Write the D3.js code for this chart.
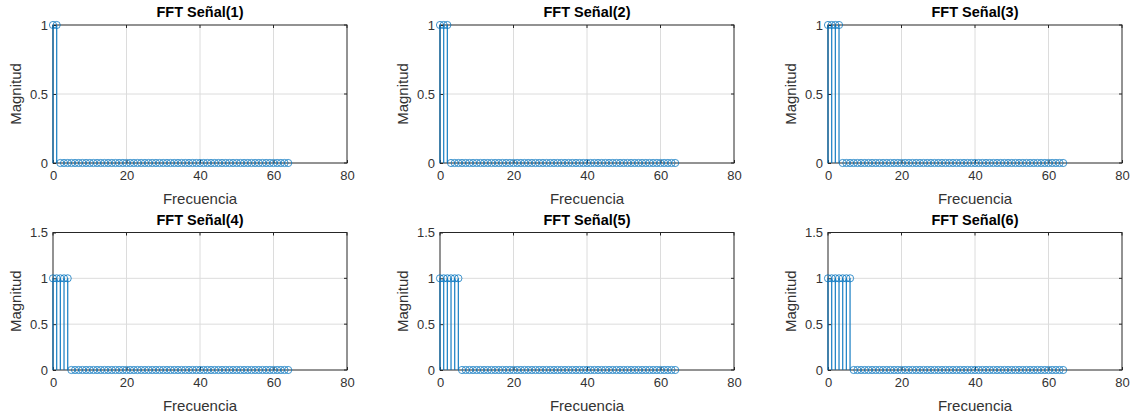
<!DOCTYPE html>
<html>
<head>
<meta charset="utf-8">
<script src="https://cdn.jsdelivr.net/npm/d3@7"></script>
<style>
  html, body { margin: 0; padding: 0; background: #fff; }
  svg { display: block; }
  text { font-family: "Liberation Sans", Arial, sans-serif; }
</style>
</head>
<body>
<svg id="chart" width="1134" height="418"></svg>
<script>
// Frequency bins 0..64 shared by all six spectra
const freqBins = d3.range(0, 65);
// Number of leading bins with unit magnitude in each signal's spectrum
const onesCount = [2, 3, 4, 5, 6, 7];
const titles = ["FFT Señal(1)", "FFT Señal(2)", "FFT Señal(3)",
                "FFT Señal(4)", "FFT Señal(5)", "FFT Señal(6)"];
const xTicks = [0, 20, 40, 60, 80];
const yTicksTop = [0, 0.5, 1];
const yTicksBottom = [0, 0.5, 1, 1.5];
const yMaxTop = 1;
const yMaxBottom = 1.5;

// Magnitudes per signal: 1 for the first bins, 0 afterwards
const magnitudes = onesCount.map(n => freqBins.map(f => (f < n ? 1 : 0)));

const svg = d3.select("#chart");
const colLeft = [53, 440, 828];
const plotW = 294;
const rows = [
  { top: 25, bottom: 163, yMax: yMaxTop, ticks: yTicksTop },
  { top: 232.5, bottom: 370, yMax: yMaxBottom, ticks: yTicksBottom }
];
const stemColor = "#0072BD";
const axisColor = "#262626";

magnitudes.forEach((vals, i) => {
  const r = rows[Math.floor(i / 3)];
  const left = colLeft[i % 3];
  const x = d3.scaleLinear().domain([0, 80]).range([left, left + plotW]);
  const y = d3.scaleLinear().domain([0, r.yMax]).range([r.bottom, r.top]);
  const g = svg.append("g");

  // grid
  g.selectAll(".gx").data(xTicks.slice(1, -1)).join("line")
    .attr("x1", d => x(d)).attr("x2", d => x(d))
    .attr("y1", r.top).attr("y2", r.bottom)
    .attr("stroke", "#dcdcdc").attr("stroke-width", 1);
  g.selectAll(".gy").data(r.ticks.filter(t => t > 0 && t < r.yMax)).join("line")
    .attr("x1", left).attr("x2", left + plotW)
    .attr("y1", d => y(d)).attr("y2", d => y(d))
    .attr("stroke", "#dcdcdc").attr("stroke-width", 1);

  // axes with inward ticks
  const xAxis = d3.axisBottom(x).tickValues(xTicks).tickSize(-3).tickPadding(8)
    .tickFormat(d3.format("d"));
  const yAxis = d3.axisLeft(y).tickValues(r.ticks).tickSize(-3).tickPadding(5)
    .tickFormat(d => (d === 0 || d === 1) ? d3.format("d")(d) : String(d));
  const xa = g.append("g").attr("transform", `translate(0,${r.bottom})`).call(xAxis);
  const ya = g.append("g").attr("transform", `translate(${left},0)`).call(yAxis);
  [xa, ya].forEach(a => {
    a.select(".domain").remove();
    a.selectAll(".tick line").attr("stroke", axisColor);
    a.selectAll(".tick text").attr("fill", "#333")
      .style("font-size", "13px").style("font-family", "Liberation Sans, Arial, sans-serif");
  });
  // mirrored ticks on top and right
  g.selectAll(".tx").data(xTicks).join("line")
    .attr("x1", d => x(d)).attr("x2", d => x(d))
    .attr("y1", r.top).attr("y2", r.top + 3).attr("stroke", axisColor);
  g.selectAll(".ty").data(r.ticks).join("line")
    .attr("x1", left + plotW - 3).attr("x2", left + plotW)
    .attr("y1", d => y(d)).attr("y2", d => y(d)).attr("stroke", axisColor);

  // box
  g.append("rect").attr("x", left).attr("y", r.top)
    .attr("width", plotW).attr("height", r.bottom - r.top)
    .attr("fill", "none").attr("stroke", axisColor).attr("stroke-width", 1);

  // stems
  const pts = freqBins.map((f, k) => ({ f, m: vals[k] }));
  g.selectAll(".stem").data(pts.filter(p => p.m !== 0)).join("line")
    .attr("x1", d => x(d.f)).attr("x2", d => x(d.f))
    .attr("y1", y(0)).attr("y2", d => y(d.m))
    .attr("stroke", stemColor).attr("stroke-width", 1.3)
    .attr("stroke-opacity", 0.85);
  g.selectAll(".mk").data(pts).join("circle")
    .attr("cx", d => x(d.f)).attr("cy", d => y(d.m)).attr("r", 3.6)
    .attr("fill", "none").attr("stroke", stemColor).attr("stroke-width", 1)
    .attr("stroke-opacity", 0.75);

  // labels
  const cx = left + plotW / 2;
  g.append("text").attr("x", cx).attr("y", r.top - 8)
    .attr("text-anchor", "middle").style("font-weight", "bold")
    .style("font-size", "14.5px").attr("fill", "#000").text(titles[i]);
  g.append("text").attr("x", cx).attr("y", r.bottom + 41)
    .attr("text-anchor", "middle").style("font-size", "15px")
    .attr("fill", "#333").text("Frecuencia");
  const ycy = (r.top + r.bottom) / 2;
  g.append("text")
    .attr("transform", `translate(${left - 32},${ycy}) rotate(-90)`)
    .attr("text-anchor", "middle").style("font-size", "15px")
    .attr("fill", "#333").text("Magnitud");
});
</script>
</body>
</html>
